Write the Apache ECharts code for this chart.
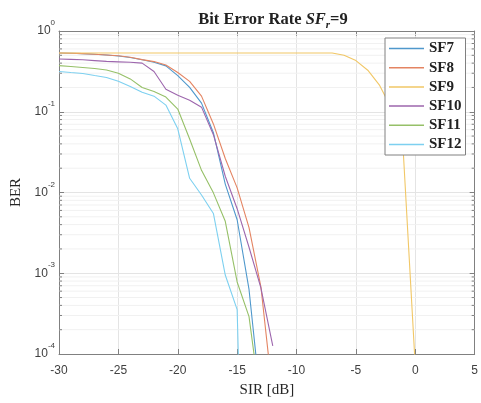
<!DOCTYPE html>
<html><head><meta charset="utf-8">
<script src="https://cdn.jsdelivr.net/npm/echarts@6/dist/echarts.min.js"></script>
<style>html,body{margin:0;padding:0;background:#fff}#c{width:481px;height:403px}</style>
</head><body><div id="c"></div>
<script>
const sir = [-30,-29,-28,-27,-26,-25,-24,-23,-22,-21,-20,-19,-18,-17,-16,-15,-14,-13,-12,-11,-10,-9,-8,-7,-6,-5,-4,-3,-2,-1,0];
const sf7  = [0.535,0.53,0.525,0.515,0.505,0.49,0.47,0.44,0.41,0.37,0.28,0.2,0.128,0.055,0.0127,0.0046,0.00063,0.000025];
const sf8  = [0.535,0.53,0.525,0.515,0.505,0.494,0.474,0.442,0.418,0.379,0.306,0.238,0.156,0.0707,0.0264,0.0114,0.00368,0.00068,0.000031];
const sf9  = [0.535,0.535,0.535,0.535,0.535,0.535,0.535,0.535,0.535,0.535,0.535,0.535,0.535,0.535,0.535,0.535,0.535,0.535,0.535,0.535,0.535,0.535,0.535,0.535,0.50,0.43,0.327,0.212,0.11,0.03,0.00007];
const sf10 = [0.45,0.445,0.44,0.43,0.42,0.415,0.41,0.40,0.315,0.19,0.16,0.139,0.114,0.052,0.0159,0.0063,0.0021,0.00066,0.000126];
const sf11 = [0.373,0.363,0.353,0.343,0.329,0.3,0.255,0.2,0.178,0.152,0.108,0.046,0.0188,0.0099,0.0044,0.00078,0.00029,0.000023];
const sf12 = [0.315,0.306,0.298,0.281,0.266,0.238,0.206,0.174,0.156,0.121,0.0615,0.015,0.0093,0.0055,0.00095,0.000355,0.000000001];
const names = ['SF7','SF8','SF9','SF10','SF11','SF12'];
const colors = ['#4f98cc','#e48462','#f1c766','#9d66ad','#96c068','#7dd0f0'];
const xTicks = [-30,-25,-20,-15,-10,-5,0,5];
const yDecades = [1e-4,1e-3,1e-2,1e-1,1];

const minorVals = [];
for (let k = 0; k < yDecades.length - 1; k++) for (let m = 2; m <= 9; m++) minorVals.push(+(m * yDecades[k]).toPrecision(3));

const allData = [sf7, sf8, sf9, sf10, sf11, sf12];
const pairs = arr => arr.map((v, i) => [sir[i], v]);

const serif = 'Liberation Serif';
const sans = 'Liberation Sans';
const axisCol = '#808080';

const chart = echarts.init(document.getElementById('c'), null, {renderer: 'canvas'});
const series = allData.map((d, i) => ({
  name: names[i], type: 'line', data: pairs(d), symbol: 'none', showSymbol: false,
  lineStyle: {width: 1.1, color: colors[i]}, itemStyle: {color: colors[i]}, z: 3, animation: false
}));
series.push({
  type: 'custom', silent: true, animation: false, clip: false, z: 2,
  data: minorVals.map(v => [v]),
  renderItem: (params, api) => {
    const v = api.value(0);
    const l = api.coord([xTicks[0], v]);
    const r = api.coord([xTicks[xTicks.length - 1], v]);
    return {type: 'group', children: [
      {type: 'line', shape: {x1: l[0], y1: l[1], x2: r[0], y2: r[1]}, style: {stroke: '#f1f1f1', lineWidth: 1}, z2: 0},
      {type: 'line', shape: {x1: l[0], y1: l[1], x2: l[0] + 3, y2: l[1]}, style: {stroke: axisCol, lineWidth: 1}, z2: 5},
      {type: 'line', shape: {x1: r[0], y1: r[1], x2: r[0] - 3, y2: r[1]}, style: {stroke: axisCol, lineWidth: 1}, z2: 5}
    ]};
  }
});

const ylab = v => {
  const e = Math.round(Math.log10(v));
  return '{b|10}{e|' + e + '}';
};

chart.setOption({
  animation: false,
  backgroundColor: '#fff',
  title: {
    text: '{n|Bit Error Rate }{i|SF}{s|r}{n|=9}',
    left: 268, top: 6, textAlign: 'center',
    textStyle: {rich: {
      n: {fontFamily: serif, fontSize: 16.5, color: '#222', lineHeight: 20, verticalAlign: 'top'},
      i: {fontFamily: serif, fontSize: 16.5, fontStyle: 'italic', color: '#222', lineHeight: 20, verticalAlign: 'top'},
      s: {fontFamily: serif, fontSize: 11, fontStyle: 'italic', color: '#222', lineHeight: 11, verticalAlign: 'bottom'}
    }}
  },
  legend: {
    data: names, orient: 'vertical', left: 385, top: 38, z: 50,
    icon: 'rect', itemWidth: 35, itemHeight: 1.5, itemGap: 4.2, padding: [3, 4, 3, 4],
    backgroundColor: '#fff', borderColor: axisCol, borderWidth: 1,
    textStyle: {fontFamily: serif, fontWeight: 'bold', fontSize: 15, color: '#222', lineHeight: 15}
  },
  grid: {left: 59, right: 3, top: 31, bottom: 45, containLabel: false},
  xAxis: [{
    type: 'value', min: -30, max: 5, interval: 5, position: 'bottom',
    name: 'SIR [dB]', nameLocation: 'middle', nameGap: 29,
    nameTextStyle: {fontFamily: serif, fontSize: 15, color: '#262626'},
    axisLine: {onZero: false, lineStyle: {color: axisCol}}, axisTick: {inside: true, length: 5, lineStyle: {color: axisCol}},
    axisLabel: {fontFamily: sans, fontSize: 12, color: '#404040', margin: 11},
    splitLine: {show: true, lineStyle: {color: '#e4e4e4'}}
  }, {
    type: 'value', min: -30, max: 5, interval: 5, position: 'top',
    axisLine: {onZero: false, lineStyle: {color: axisCol}}, axisTick: {inside: true, length: 5, lineStyle: {color: axisCol}},
    axisLabel: {show: false}, splitLine: {show: false}
  }],
  yAxis: [{
    type: 'log', logBase: 10, min: 1e-4, max: 1, position: 'left',
    name: 'BER', nameLocation: 'middle', nameGap: 25,
    nameTextStyle: {fontFamily: serif, fontSize: 15, color: '#262626'},
    axisLine: {show: true, onZero: false, lineStyle: {color: axisCol}}, axisTick: {inside: true, length: 5, lineStyle: {color: axisCol}},
    axisLabel: {formatter: ylab, margin: 4, padding: [0, 0, 6, 0], rich: {
      b: {fontFamily: sans, fontSize: 12, color: '#404040', lineHeight: 18, verticalAlign: 'bottom'},
      e: {fontFamily: sans, fontSize: 8, color: '#404040', lineHeight: 8, verticalAlign: 'top'}
    }},
    splitLine: {show: true, lineStyle: {color: '#e4e4e4'}}
  }, {
    type: 'log', logBase: 10, min: 1e-4, max: 1, position: 'right',
    axisLine: {show: true, onZero: false, lineStyle: {color: axisCol}}, axisTick: {inside: true, length: 5, lineStyle: {color: axisCol}},
    axisLabel: {show: false}, splitLine: {show: false}
  }],
  series: series
});
</script></body></html>
